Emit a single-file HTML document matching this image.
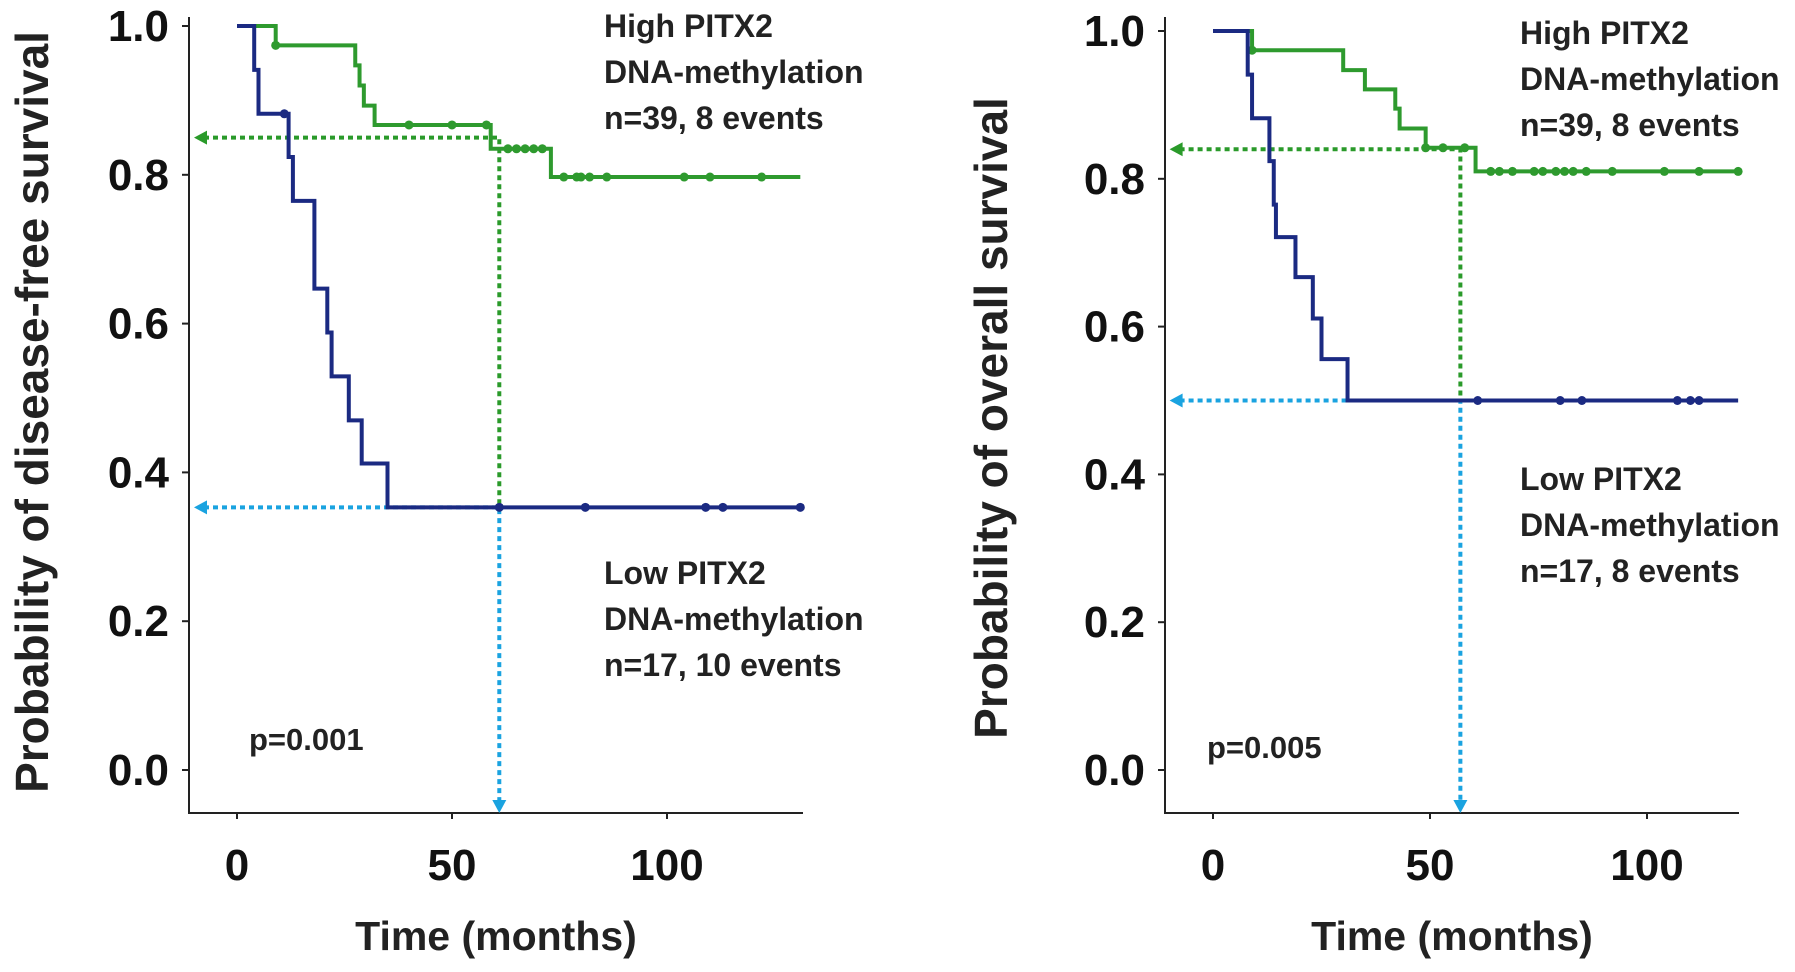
<!DOCTYPE html>
<html><head><meta charset="utf-8"><style>
body{margin:0;background:#fff;}
svg{display:block;font-family:"Liberation Sans",Arial,sans-serif;font-weight:bold;}
</style></head><body>
<svg id="c" width="1795" height="972" viewBox="0 0 1795 972"></svg>
<script>
// Panel A: disease-free survival
const dfsHighT=[0,9,27.5,28.5,29.5,32,59,73,131];
const dfsHighS=[1.0,0.974,0.947,0.92,0.893,0.867,0.835,0.797,0.797];
const dfsLowT=[0,4,5,12,13,18,21,22,26,29,35,131];
const dfsLowS=[1.0,0.941,0.882,0.824,0.765,0.647,0.588,0.529,0.47,0.412,0.353,0.353];
const dfsHighCens=[9,40,50,58,63,65,67,69,71,76,79,80,82,86,104,110,122];
const dfsLowCens=[11,61,81,109,113,131];
const dfsRef={high:0.85,low:0.353,t:61};
// Panel B: overall survival
const osHighT=[0,9,30,35,42,43,49,60.5,121];
const osHighS=[1.0,0.974,0.947,0.921,0.895,0.868,0.842,0.81,0.81];
const osLowT=[0,8,9,13,14,14.5,19,23,25,31,121];
const osLowS=[1.0,0.941,0.882,0.824,0.765,0.721,0.667,0.611,0.556,0.5,0.5];
const osHighCens=[9,49,53,58,64,66,69,74,76,79,81,83,86,92,104,112,121];
const osLowCens=[61,80,85,107,110,112];
const osRef={high:0.84,low:0.5,t:57};
const yTicks=[0.0,0.2,0.4,0.6,0.8,1.0];
const xTicks=[0,50,100];

const svg=document.getElementById('c');
const NS='http://www.w3.org/2000/svg';
function mk(tag,attrs,parent){const e=document.createElementNS(NS,tag);for(const k in attrs)e.setAttribute(k,attrs[k]);(parent||svg).appendChild(e);return e;}

function panel(P){
  const g=mk('g',{});
  
  
  const X=t=>P.x0+(t-0)*(P.x50-P.x0)/50;
  const Y=s=>P.y0+(P.y1-P.y0)*s;
  const ax=mk('path',{d:`M${P.axL},${P.axTop} V${P.axB} H${P.axR}`,stroke:'#222',fill:'none','stroke-width':2},g);
  
  
  yTicks.forEach(v=>{
    mk('line',{x1:P.axL-7,x2:P.axL,y1:Y(v),y2:Y(v),stroke:'#222','stroke-width':2},g);
    const t=mk('text',{x:P.axL-20,y:Y(v)+15,'text-anchor':'end','font-size':44,fill:'#111'},g);
    t.textContent=v.toFixed(1);
    
    
  });
  xTicks.forEach(v=>{
    mk('line',{x1:X(v),x2:X(v),y1:P.axB,y2:P.axB+6,stroke:'#222','stroke-width':2},g);
    const t=mk('text',{x:X(v),y:880,'text-anchor':'middle','font-size':44,fill:'#111'},g);
    t.textContent=v;
    
    
  });
  const L=-10;
  const r1=mk('path',{d:`M${X(L)+10},${Y(P.ref.high)} H${X(P.ref.t)} V${Y(P.ref.low)}`,stroke:'#2a9a2a',fill:'none','stroke-width':4,'stroke-dasharray':'5 4'},g);
  
  
  mk('path',{d:`M${X(L)},${Y(P.ref.high)} l13,-7 v14 z`,fill:'#2a9a2a'},g);
  const r2=mk('path',{d:`M${X(L)+10},${Y(P.ref.low)} H${X(P.ref.t)} V${P.axB-10}`,stroke:'#1aa3e0',fill:'none','stroke-width':4,'stroke-dasharray':'5 4'},g);
  
  
  mk('path',{d:`M${X(L)},${Y(P.ref.low)} l13,-7 v14 z`,fill:'#1aa3e0'},g);
  mk('path',{d:`M${X(P.ref.t)},${P.axB} l-7,-13 h14 z`,fill:'#1aa3e0'},g);
  function curve(T,S,C,col,name){
    let d=`M${X(T[0])},${Y(S[0])}`;
    for(let i=1;i<T.length;i++){d+=` H${X(T[i])} V${Y(S[i])}`;}
    const p=mk('path',{d,stroke:col,fill:'none','stroke-width':4},g);
    
    
    C.forEach(c=>{
      let s=S[0];for(let i=0;i<T.length;i++){if(T[i]<=c)s=S[i];}
      const m=mk('circle',{cx:X(c),cy:Y(s),r:4.5,fill:col},g);
      
      
    });
  }
  curve(P.hT,P.hS,P.hC,'#2e9a2e','high-methylation-curve');
  curve(P.lT,P.lS,P.lC,'#1b2a82','low-methylation-curve');
  function txt(x,y,s,size,name,extra){const t=mk('text',Object.assign({x,y,'font-size':size,fill:'#222'},extra||{}),g);t.textContent=s;return t;}
  P.hiLbl.forEach((s,i)=>txt(P.annX,P.hiY+i*46,s,32,'high-group-label'));
  P.loLbl.forEach((s,i)=>txt(P.annX,P.loY+i*46,s,32,'low-group-label'));
  txt(P.pX,P.pY,P.p,31,'p-value');
  txt((P.axL+P.axR)/2,950,'Time (months)',41,'x-axis-title',{'text-anchor':'middle'});
  txt(0,0,P.ytitle,46,'y-axis-title',{'text-anchor':'middle',transform:`translate(${P.ytX},${P.ytY}) rotate(-90)`});
}
panel({name:'dfs-panel',x0:237,x50:452,y0:770,y1:26,axL:189,axR:803,axTop:17,axB:813,
  hT:dfsHighT,hS:dfsHighS,hC:dfsHighCens,lT:dfsLowT,lS:dfsLowS,lC:dfsLowCens,ref:dfsRef,
  hiLbl:['High PITX2','DNA-methylation','n=39, 8 events'],loLbl:['Low PITX2','DNA-methylation','n=17, 10 events'],
  annX:604,hiY:37,loY:584,p:'p=0.001',pX:249,pY:750,ytitle:'Probability of disease-free survival',ytX:48,ytY:412});
panel({name:'os-panel',x0:1213,x50:1430,y0:770,y1:31,axL:1165,axR:1739,axTop:17,axB:813,
  hT:osHighT,hS:osHighS,hC:osHighCens,lT:osLowT,lS:osLowS,lC:osLowCens,ref:osRef,
  hiLbl:['High PITX2','DNA-methylation','n=39, 8 events'],loLbl:['Low PITX2','DNA-methylation','n=17, 8 events'],
  annX:1520,hiY:44,loY:490,p:'p=0.005',pX:1207,pY:758,ytitle:'Probability of overall survival',ytX:1007,ytY:418});
</script>
</body></html>
